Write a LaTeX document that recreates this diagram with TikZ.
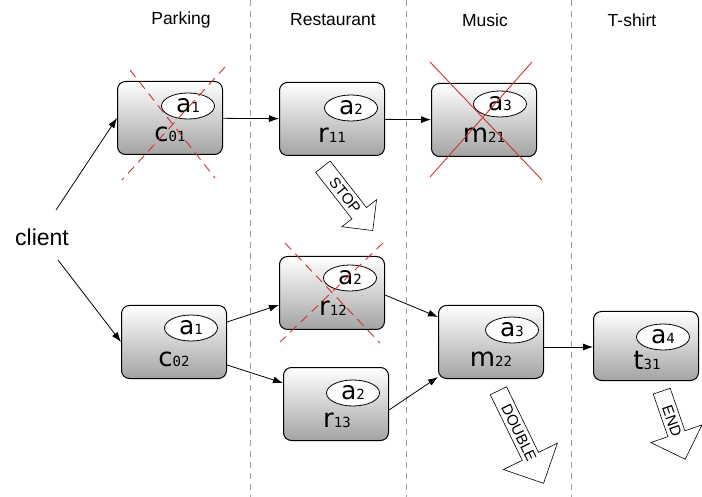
\documentclass[tikz,border=0pt]{standalone}
\usepackage{fontspec}
\setmainfont{Liberation Sans}
\newfontfamily\boxfont{DejaVu Sans}
\newfontfamily\subfont{DejaVu Sans Mono}
\usetikzlibrary{arrows.meta,shapes.geometric,shapes.arrows}

\begin{document}
\begin{tikzpicture}[x=1pt,y=-1pt,
  stage/.style={draw=black,line width=1pt,rounded corners=8pt,
    top color=col_top,bottom color=col_bot,
    minimum width=105pt,minimum height=73pt,inner sep=0pt},
  act/.style={ellipse,draw=black,line width=0.8pt,fill=white,
    minimum width=53pt,minimum height=26pt,inner sep=0pt},
  lab/.style={inner sep=0pt},
  flow/.style={-{Latex[length=10pt,width=7pt]},line width=0.8pt},
  sep/.style={draw=col_sep,line width=0.8pt,dash pattern=on 6pt off 5pt},
  cross/.style={draw=col_cross,line width=0.9pt},
  crossdash/.style={cross,dash pattern=on 9pt off 6pt},
  head/.style={font=\fontsize{17.5}{20}\selectfont},
  signal/.style={single arrow,draw=black,line width=0.6pt,fill=white,
    single arrow tip angle=90,inner xsep=2pt,inner ysep=3pt,
    font=\fontsize{15}{15}\selectfont}]
%
\definecolor{col_top}{rgb}{1.0,1.0,1.0}
\definecolor{col_bot}{rgb}{0.64,0.64,0.64}
\definecolor{col_sep}{rgb}{0.62,0.62,0.62}
\definecolor{col_cross}{rgb}{0.80,0.20,0.20}
%
\useasboundingbox (0,0) rectangle (702,497);
%
% columns
\draw[sep] (250,0) -- (250,497);
\draw[sep] (406,0) -- (406,497);
\draw[sep] (571,0) -- (571,497);
\node[head] (hpark) at (181,20) {Parking};
\node[head] (hrest) at (333,20) {Restaurant};
\node[head] (hmusic) at (485,20) {Music};
\node[head] (hshirt) at (632,20) {T-shirt};
%
\node[font=\fontsize{23}{25}\selectfont] (client) at (42,237) {client};
%
% stages
\node[stage] (c01) at (170,118) {};
\node[act] (c01a) at ([xshift=18pt,yshift=12pt]c01.center) {{\boxfont\fontsize{25}{25}\selectfont a}{\subfont\fontsize{14}{14}\selectfont 1}};
\node[lab] (c01l) at ([yshift=-16pt]c01.center) {{\boxfont\fontsize{26}{26}\selectfont c}{\subfont\fontsize{14}{14}\selectfont 01}};
%
\node[stage] (r11) at (332,119) {};
\node[act] (r11a) at ([xshift=19pt,yshift=11pt]r11.center) {{\boxfont\fontsize{25}{25}\selectfont a}{\subfont\fontsize{14}{14}\selectfont 2}};
\node[lab] (r11l) at ([yshift=-16pt]r11.center) {{\boxfont\fontsize{26}{26}\selectfont r}{\subfont\fontsize{14}{14}\selectfont 11}};
%
\node[stage] (m21) at (484,120) {};
\node[act] (m21a) at ([xshift=16pt,yshift=16pt]m21.center) {{\boxfont\fontsize{25}{25}\selectfont a}{\subfont\fontsize{14}{14}\selectfont 3}};
\node[lab] (m21l) at ([yshift=-15pt]m21.center) {{\boxfont\fontsize{26}{26}\selectfont m}{\subfont\fontsize{14}{14}\selectfont 21}};
%
\node[stage] (c02) at (174,342) {};
\node[act] (c02a) at ([xshift=17pt,yshift=14pt]c02.center) {{\boxfont\fontsize{25}{25}\selectfont a}{\subfont\fontsize{14}{14}\selectfont 1}};
\node[lab] (c02l) at ([yshift=-17pt]c02.center) {{\boxfont\fontsize{26}{26}\selectfont c}{\subfont\fontsize{14}{14}\selectfont 02}};
%
\node[stage] (r12) at (332,293) {};
\node[act] (r12a) at ([xshift=18pt,yshift=15pt]r12.center) {{\boxfont\fontsize{25}{25}\selectfont a}{\subfont\fontsize{14}{14}\selectfont 2}};
\node[lab] (r12l) at ([xshift=1pt,yshift=-15pt]r12.center) {{\boxfont\fontsize{26}{26}\selectfont r}{\subfont\fontsize{14}{14}\selectfont 12}};
%
\node[stage] (r13) at (336,404) {};
\node[act] (r13a) at ([xshift=17pt,yshift=11pt]r13.center) {{\boxfont\fontsize{25}{25}\selectfont a}{\subfont\fontsize{14}{14}\selectfont 2}};
\node[lab] (r13l) at ([xshift=1pt,yshift=-16pt]r13.center) {{\boxfont\fontsize{26}{26}\selectfont r}{\subfont\fontsize{14}{14}\selectfont 13}};
%
\node[stage] (m22) at (491,342) {};
\node[act] (m22a) at ([xshift=21pt,yshift=12pt]m22.center) {{\boxfont\fontsize{25}{25}\selectfont a}{\subfont\fontsize{14}{14}\selectfont 3}};
\node[lab] (m22l) at ([yshift=-17pt]m22.center) {{\boxfont\fontsize{26}{26}\selectfont m}{\subfont\fontsize{14}{14}\selectfont 22}};
%
\node[stage,minimum height=69pt] (t31) at (646,346) {};
\node[act] (t31a) at ([xshift=17pt,yshift=9pt]t31.center) {{\boxfont\fontsize{25}{25}\selectfont a}{\subfont\fontsize{14}{14}\selectfont 4}};
\node[lab] (t31l) at ([xshift=1pt,yshift=-14pt]t31.center) {{\boxfont\fontsize{26}{26}\selectfont t}{\subfont\fontsize{14}{14}\selectfont 31}};
%
% flows
\draw[flow] ([xshift=14pt,yshift=15pt]client.north) -- (c01.west);
\draw[flow] ([xshift=16pt,yshift=-11pt]client.south) -- (c02.west);
\draw[flow] (c01) -- (r11);
\draw[flow] (r11) -- (m21);
\draw[flow] ([yshift=20pt]c02.east) -- ([yshift=-12pt]r12.west);
\draw[flow] ([yshift=-23pt]c02.east) -- ([yshift=21pt]r13.west);
\draw[flow] ([yshift=-2pt]r12.east) -- ([yshift=25pt]m22.west);
\draw[flow] ([yshift=-6pt]r13.east) -- ([yshift=-35pt]m22.west);
\draw[flow] ([yshift=-5pt]m22.east) -- ([yshift=-5pt]m22.east -| t31.west);
%
% signals
\node[signal,rotate=-52,minimum height=81pt,minimum width=44pt,single arrow head extend=12pt] (stop) at (345,195) {STOP};
\node[signal,rotate=-64,minimum height=103pt,minimum width=60pt,single arrow head extend=20pt] (double) at (519,433) {DOUBLE};
\node[signal,rotate=-71,minimum height=72pt,minimum width=54pt,single arrow head extend=17pt] (end) at (672,421) {END};
%
% cancelled stages
\draw[crossdash] (130,70) -- (215,178);
\draw[crossdash] (225,67) -- (122,180);
\draw[cross] (430,62) -- (542,180);
\draw[cross] (532,62) -- (430,177);
\draw[crossdash] (285,243) -- (380,343);
\draw[crossdash] (383,243) -- (280,342);
%
\end{tikzpicture}
\end{document}
